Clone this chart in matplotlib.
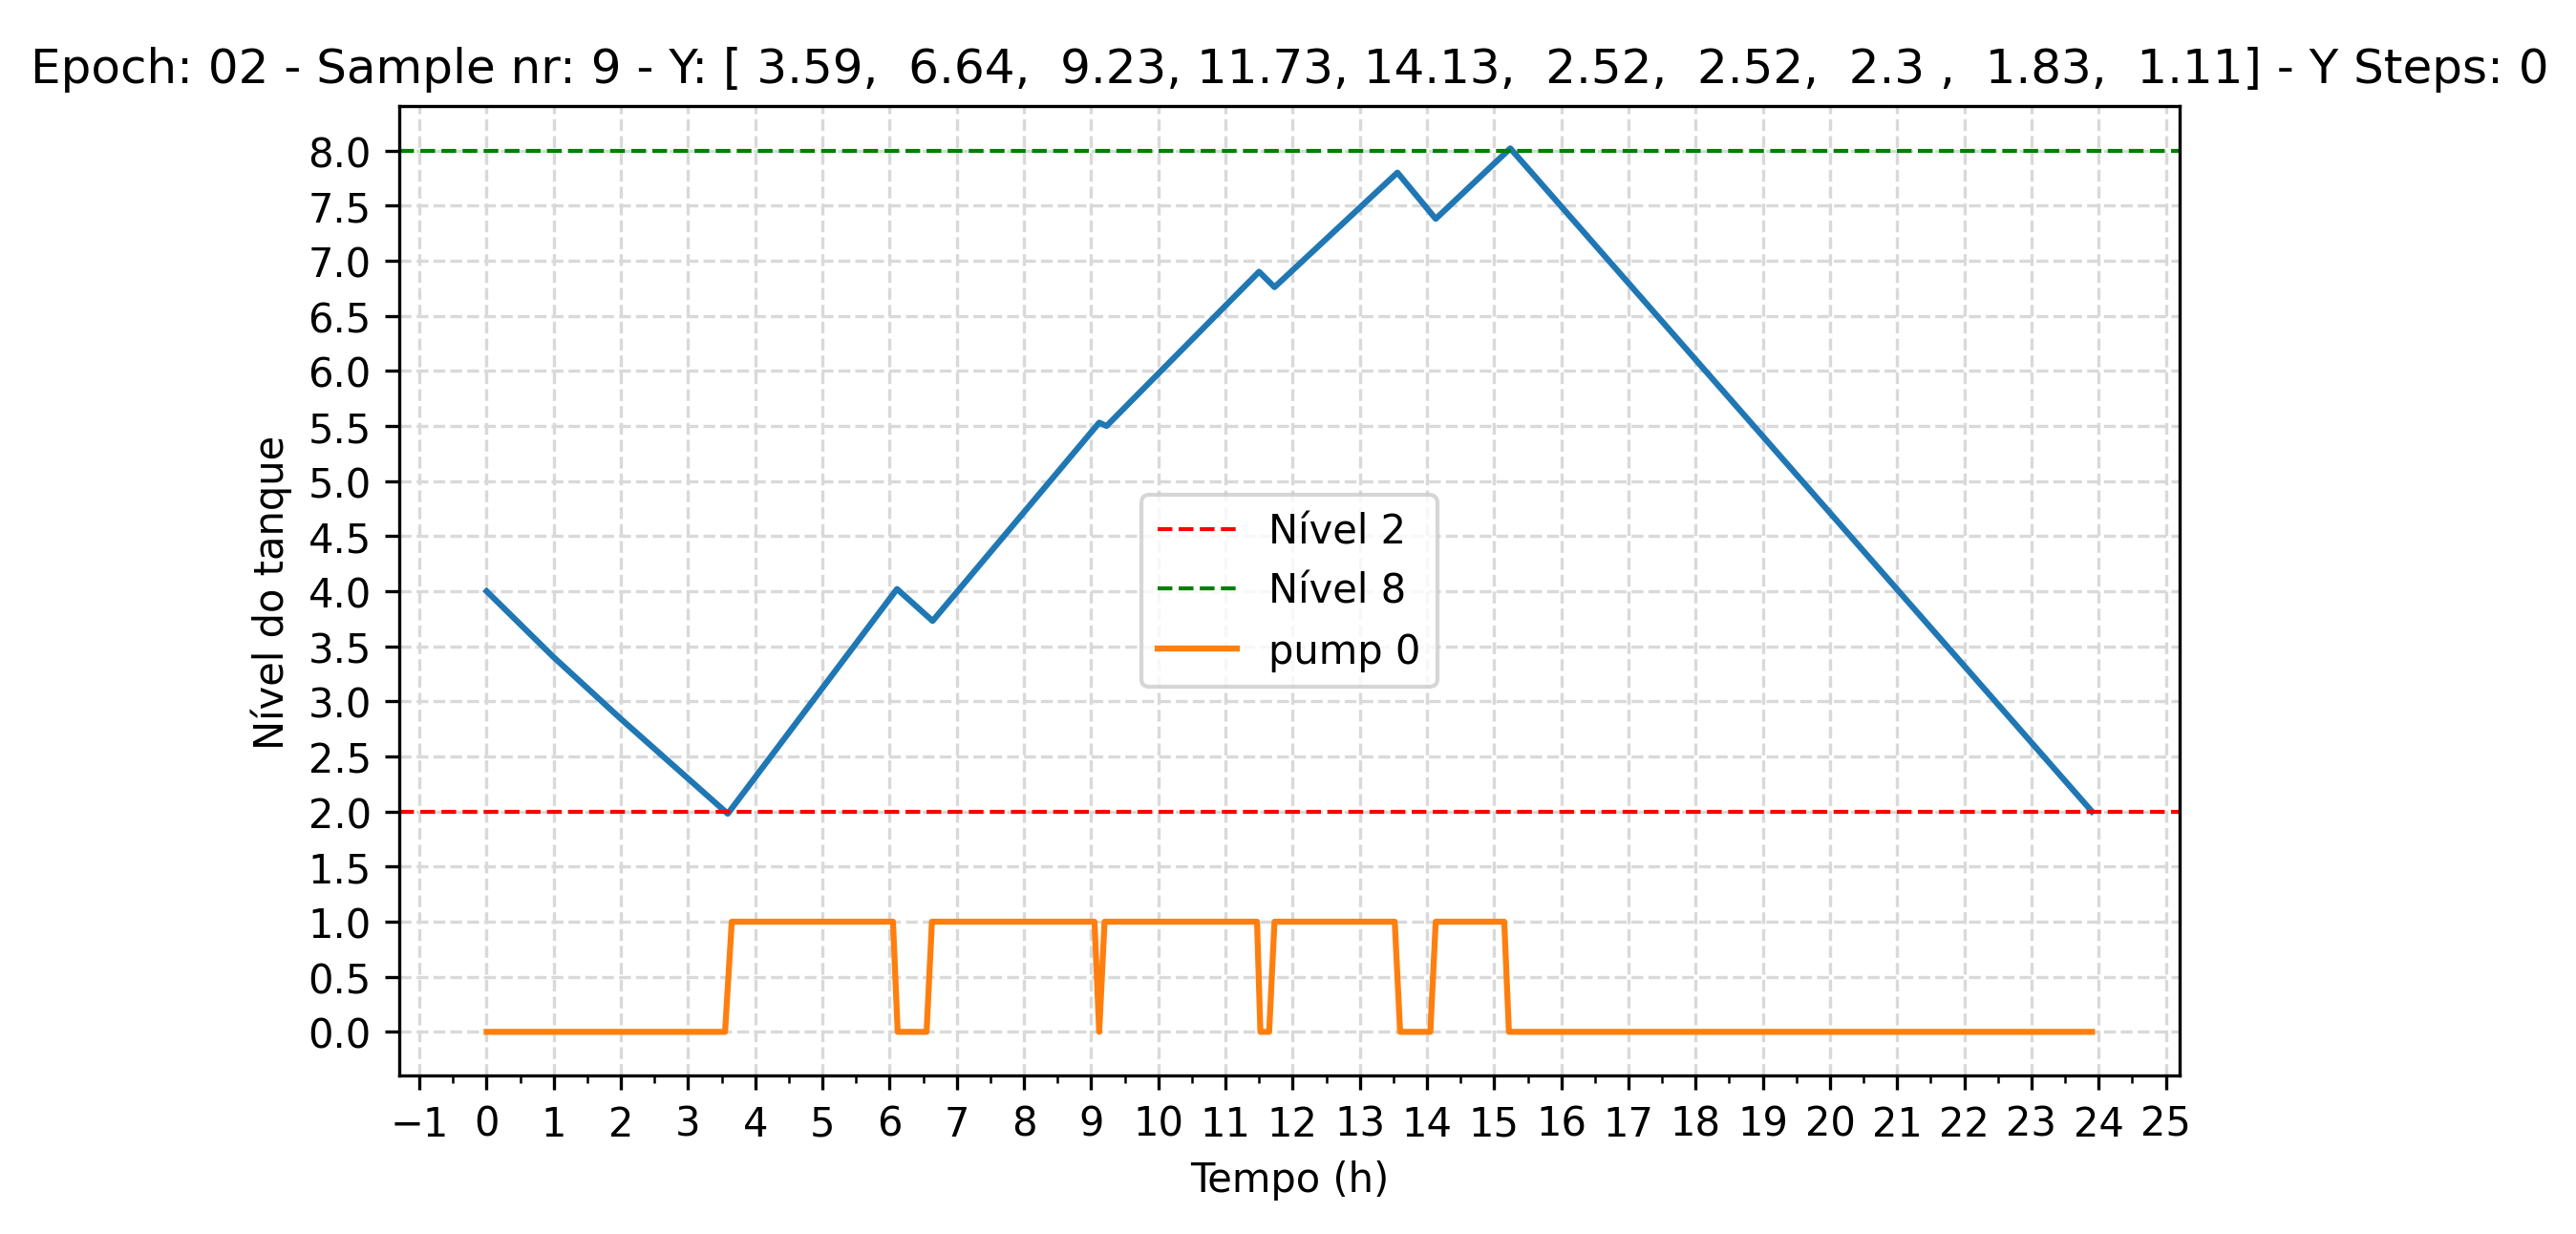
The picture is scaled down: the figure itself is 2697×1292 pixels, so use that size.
import numpy as np
import matplotlib.pyplot as plt

# tank level (h, level)
level_t = [0, 1, 2, 3.59, 6.11, 6.64, 9.12, 9.23, 11.5, 11.73, 13.56, 14.13, 15.24, 23.9]
level_v = [4.0, 3.4, 2.84, 1.98, 4.02, 3.73, 5.53, 5.5, 6.9, 6.76, 7.8, 7.38, 8.02, 2.0]

# pump state
pump_t = [0, 3.55, 3.65, 6.05, 6.12, 6.55, 6.63, 9.05, 9.12, 9.2, 11.47, 11.52, 11.65, 11.73,
          13.52, 13.6, 14.05, 14.13, 15.15, 15.22, 23.9]
pump_v = [0, 0, 1, 1, 0, 0, 1, 1, 0, 1, 1, 0, 0, 1, 1, 0, 0, 1, 1, 0, 0]

title = ("Epoch: 02 - Sample nr: 9 - Y: [ 3.59,  6.64,  9.23, 11.73, 14.13,  2.52,  2.52,  2.3 ,  1.83,  1.11]"
         " - Y Steps: 0")

fig, ax = plt.subplots(figsize=(8.99, 4.31), dpi=300)
fig.subplots_adjust(left=0.155, right=0.846, top=0.913, bottom=0.128)
ax.plot(level_t, level_v, color='tab:blue')
ax.axhline(2, color='red', linestyle='--', linewidth=1, label='Nível 2')
ax.axhline(8, color='green', linestyle='--', linewidth=1, label='Nível 8')
ax.plot(pump_t, pump_v, color='tab:orange', label='pump 0')

ax.set_xticks(np.arange(-1, 26, 1))
ax.set_xticks(np.arange(-1, 25.5, 0.5), minor=True)
ax.set_yticks(np.arange(0, 8.01, 0.5))
ax.set_xlim(-1.3, 25.2)
ax.set_ylim(-0.4, 8.4)
ax.grid(True, linestyle='--', color='#d9d9d9')
ax.set_xlabel('Tempo (h)')
ax.set_ylabel('Nível do tanque')
ax.set_title(title)
ax.legend(loc='center')
fig.savefig('out.png')
